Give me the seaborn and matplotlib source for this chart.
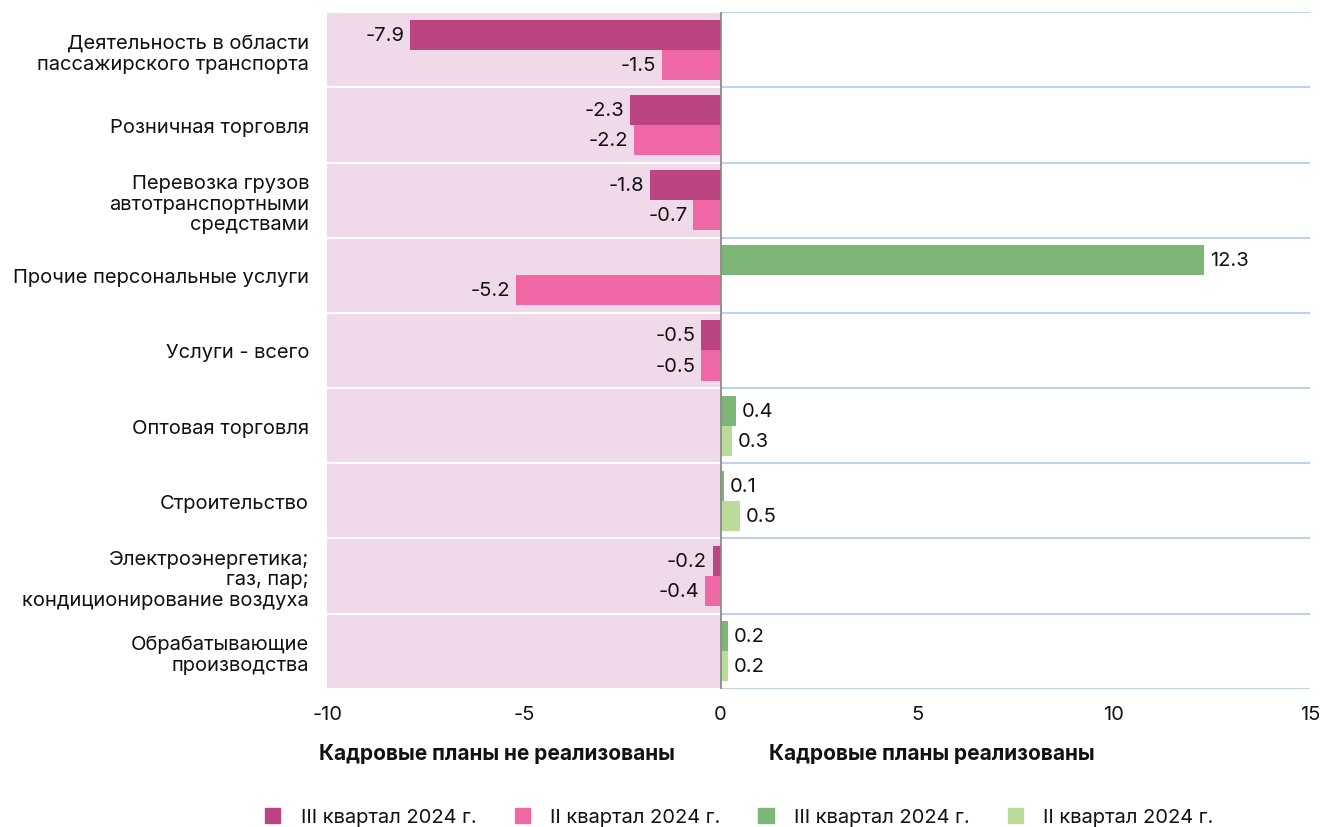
import numpy as np
import pandas as pd
import matplotlib
matplotlib.use("Agg")
import matplotlib.pyplot as plt
import matplotlib.patches as mpatches
import seaborn as sns

# data
categories = [
    "Деятельность в области\nпассажирского транспорта",
    "Розничная торговля",
    "Перевозка грузов\nавтотранспортными\nсредствами",
    "Прочие персональные услуги",
    "Услуги - всего",
    "Оптовая торговля",
    "Строительство",
    "Электроэнергетика;\nгаз, пар;\nкондиционирование воздуха",
    "Обрабатывающие\nпроизводства",
]
q3_2024 = [-7.9, -2.3, -1.8, 12.3, -0.5, 0.4, 0.1, -0.2, 0.2]
q2_2024 = [-1.5, -2.2, -0.7, -5.2, -0.5, 0.3, 0.5, -0.4, 0.2]
quarters = ["III квартал 2024 г.", "II квартал 2024 г."]
x_ticks = [-10, -5, 0, 5, 10, 15]

# colours: (negative, positive) per quarter
neg_colors = {"III квартал 2024 г.": "#BC4480", "II квартал 2024 г.": "#EF67A5"}
pos_colors = {"III квартал 2024 г.": "#7EB677", "II квартал 2024 г.": "#BADC98"}
pink_bg = "#F0DAE9"
grid_blue = "#B4C8E8"
fs = 14.5

df = pd.DataFrame({
    "category": categories * 2,
    "quarter": [quarters[0]] * len(categories) + [quarters[1]] * len(categories),
    "value": q3_2024 + q2_2024,
})

sns.set_style("white")
plt.rcParams["font.family"] = ["Inter", "DejaVu Sans"]
plt.rcParams["text.color"] = "#111111"

fig = plt.figure(figsize=(13.25, 8.28), dpi=100)
ax = fig.add_axes([0.247, 0.167, 0.742, 0.817])

sns.barplot(data=df, y="category", x="value", hue="quarter", hue_order=quarters,
            order=categories, orient="h", width=0.8, ax=ax, legend=False,
            saturation=1, zorder=3)

# recolour bars by sign and label them
for cont, q in zip(ax.containers, quarters):
    for bar in cont:
        v = bar.get_width()
        bar.set_facecolor(neg_colors[q] if v < 0 else pos_colors[q])
        bar.set_edgecolor("none")
    ax.bar_label(cont, fmt="{:.1f}", padding=4, fontsize=fs, color="#111111")

ax.set_xlim(-10, 15)
ax.set_ylim(len(categories) - 0.5, -0.5)

# pink shaded "not realised" half and row separators
ax.axvspan(-10, 0, color=pink_bg, zorder=0, lw=0)
for i in range(len(categories) + 1):
    y = i - 0.5
    ax.hlines(y, -10, 0, color="white", lw=1.5, zorder=1)
    ax.hlines(y, 0, 15, color=grid_blue, lw=1.2, zorder=1)
ax.axvline(0, color="#8C8C8C", lw=1.3, zorder=4)

ax.set_xticks(x_ticks)
ax.set_xticklabels([str(t) for t in x_ticks], fontsize=fs, color="#111111")
ax.tick_params(axis="x", length=0, pad=12)
ax.tick_params(axis="y", length=0, pad=13, labelsize=fs, labelcolor="#111111")
ax.set_xlabel("")
ax.set_ylabel("")
for s in ax.spines.values():
    s.set_visible(False)

fig.text(497 / 1325, 1 - 754 / 828, "Кадровые планы не реализованы",
         ha="center", va="center", fontsize=15, fontweight="bold")
fig.text(932 / 1325, 1 - 754 / 828, "Кадровые планы реализованы",
         ha="center", va="center", fontsize=15, fontweight="bold")

handles = [
    mpatches.Patch(color=neg_colors[quarters[0]], label=quarters[0]),
    mpatches.Patch(color=neg_colors[quarters[1]], label=quarters[1]),
    mpatches.Patch(color=pos_colors[quarters[0]], label=quarters[0]),
    mpatches.Patch(color=pos_colors[quarters[1]], label=quarters[1]),
]
fig.legend(handles=handles, loc="center", bbox_to_anchor=(0.558, 0.012), ncol=4,
           frameon=False, fontsize=fs, handlelength=0.75, handleheight=0.75,
           columnspacing=1.9, handletextpad=1.0)

fig.savefig("out.png", dpi=100)
